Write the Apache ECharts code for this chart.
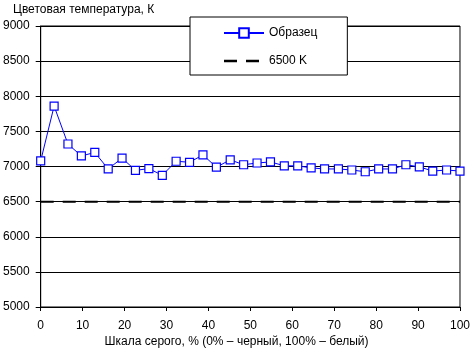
<!DOCTYPE html>
<html><head><meta charset="utf-8">
<script src="https://cdn.jsdelivr.net/npm/echarts@6/dist/echarts.min.js"></script>
<style>html,body{margin:0;padding:0;background:#fff}#c{width:473px;height:349px}</style>
</head><body><div id="c"></div>
<script>
const grayPct = [0, 3.2, 6.5, 9.7, 12.9, 16.1, 19.4, 22.6, 25.8, 29.0, 32.3, 35.5, 38.7, 41.9, 45.2, 48.4, 51.6, 54.8, 58.1, 61.3, 64.5, 67.7, 71.0, 74.2, 77.4, 80.6, 83.9, 87.1, 90.3, 93.5, 96.8, 100];
const sampleK = [7080, 7860, 7320, 7150, 7200, 6965, 7120, 6945, 6970, 6875, 7075, 7060, 7165, 6990, 7095, 7025, 7050, 7065, 7010, 7010, 6980, 6965, 6965, 6950, 6925, 6965, 6965, 7025, 6995, 6935, 6950, 6935];
const refX = [0, 100];
const refK = [6500, 6500];
const seriesNames = ['Образец', '6500 K'];
const yTitle = 'Цветовая температура, К';
const xTitle = 'Шкала серого, % (0% – черный, 100% – белый)';

const font = 'Arial, "Liberation Sans", sans-serif';
const chart = echarts.init(document.getElementById('c'));
chart.setOption({
  animation: false,
  backgroundColor: '#fff',
  textStyle: {fontFamily: font},
  title: [
    {text: yTitle, left: 8, top: -1, textStyle: {fontSize: 12, fontWeight: 'normal', color: '#000', fontFamily: font}},
    {text: xTitle, left: 'center', top: 331, textStyle: {fontSize: 12, fontWeight: 'normal', color: '#000', fontFamily: font}}
  ],
  legend: {
    orient: 'vertical',
    left: 190, top: 17,
    padding: [10, 30, 8, 33],
    itemGap: 16,
    itemWidth: 40, itemHeight: 12,
    backgroundColor: '#fff', borderColor: '#000', borderWidth: 1,
    textStyle: {fontSize: 12, color: '#000', fontFamily: font},
    data: [
      {name: seriesNames[0]},
      {name: seriesNames[1], icon: 'path://M0,0M0,4.8H13V7.2H0ZM22,4.8H35V7.2H22ZM40,12', itemStyle: {color: '#000', borderWidth: 0}}
    ]
  },
  grid: {left: 38, right: 9, top: 26, bottom: 42, show: true, borderColor: '#000', borderWidth: 1, backgroundColor: 'transparent'},
  xAxis: {
    type: 'value', min: 0, max: 100, interval: 10,
    axisLine: {lineStyle: {color: '#000', width: 1}},
    axisTick: {show: true, length: 4, lineStyle: {color: '#000'}},
    axisLabel: {fontSize: 12, color: '#000', margin: 13, fontFamily: font},
    splitLine: {show: false}
  },
  yAxis: {
    type: 'value', min: 5000, max: 9000, interval: 500,
    axisLine: {show: true, lineStyle: {color: '#000', width: 1}},
    axisTick: {show: true, length: 5, lineStyle: {color: '#000'}},
    axisLabel: {fontSize: 12, color: '#000', margin: 11, fontFamily: font, formatter: v => String(v)},
    splitLine: {show: true, lineStyle: {color: '#000', width: 1}}
  },
  series: [
    {
      name: seriesNames[0], type: 'line',
      data: grayPct.map((x, i) => [x, sampleK[i]]),
      symbol: 'rect', symbolSize: 8,
      lineStyle: {color: '#0000ff', width: 1},
      itemStyle: {color: '#fff', borderColor: '#0000ff', borderWidth: 1.2},
      z: 3
    },
    {
      name: seriesNames[1], type: 'line',
      data: refX.map((x, i) => [x, refK[i]]),
      symbol: 'none',
      lineStyle: {color: '#000', width: 2, type: [13, 9]},
      itemStyle: {color: '#000'},
      z: 2
    }
  ]
});
</script></body></html>
